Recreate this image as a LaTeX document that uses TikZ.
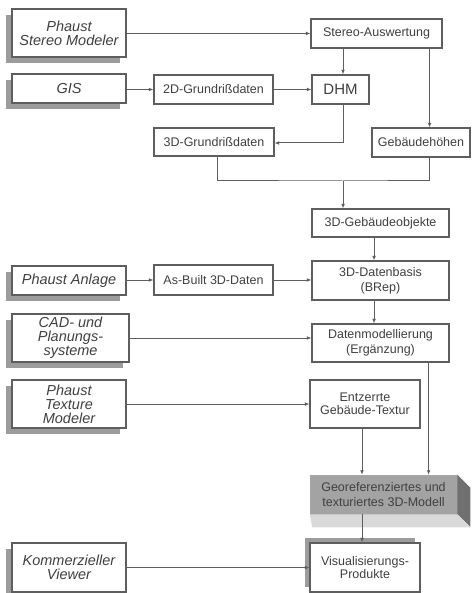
\documentclass[tikz,border=0pt]{standalone}
\usepackage{fontspec}
\setmainfont{Liberation Sans}
\usetikzlibrary{arrows.meta,shadows}
\definecolor{linegray}{HTML}{5E5E5E}
\definecolor{txtgray}{HTML}{404040}
\definecolor{shadegray}{HTML}{9C9C9C}
\definecolor{frontgray}{HTML}{A3A3A3}
\definecolor{sidegray}{HTML}{707070}
\definecolor{floorgray}{HTML}{D9D9D9}
\begin{document}
\begin{tikzpicture}[x=1pt,y=-1pt,
    line/.style={draw=linegray, line width=1pt},
    arr/.style={line, -{Latex[length=4.5pt,width=3.8pt]}},
    leftbox/.style={draw=linegray, line width=1.2pt, fill=white, text=txtgray,
        font=\fontsize{14.5}{14}\selectfont\itshape, align=center, inner sep=0pt,
        minimum width=114pt,
        drop shadow={shadow xshift=-6pt, shadow yshift=-6pt, fill=shadegray, opacity=1}},
    procbox/.style={draw=linegray, line width=1.2pt, fill=white, text=txtgray,
        font=\fontsize{12.5}{15}\selectfont, align=center, inner sep=0pt}]

    \fill[white] (0,0) rectangle (473,593);
    \useasboundingbox (0,0) rectangle (473,593);

    % Draw source systems
    \node[leftbox, minimum height=48pt] (psm) at (69,33) {Phaust\\Stereo Modeler};
    \node[leftbox, minimum height=29pt] (gis) at (69,88.5) {GIS};
    \node[leftbox, minimum height=29pt] (pan) at (69,280.5) {Phaust Anlage};
    \node[leftbox, minimum width=117pt, minimum height=48pt] (cad) at (70.5,338) {CAD- und\\Planungs-\\systeme};
    \node[leftbox, minimum height=48pt] (ptm) at (69,404) {Phaust\\Texture\\Modeler};
    \node[leftbox, minimum height=49pt] (kv) at (69,567.5) {Kommerzieller\\Viewer};

    % Draw data boxes
    \node[procbox, minimum width=131pt, minimum height=29pt] (stereo) at (376.5,33.5) {Stereo-Auswertung};
    \node[procbox, minimum width=119pt, minimum height=29pt] (g2d) at (213.5,89.5) {2D-Grundrißdaten};
    \node[procbox, minimum width=57pt, minimum height=29pt, font=\fontsize{15}{18}\selectfont] (dhm) at (340.5,89.5) {DHM};
    \node[procbox, minimum width=120pt, minimum height=28pt] (g3d) at (214,142) {3D-Grundrißdaten};
    \node[procbox, minimum width=98pt, minimum height=29pt] (geb) at (421,142.5) {Gebäudehöhen};
    \node[procbox, minimum width=137pt, minimum height=28pt] (obj) at (380.5,223) {3D-Gebäudeobjekte};
    \node[procbox, minimum width=119pt, minimum height=30pt] (asb) at (213.5,280) {As-Built 3D-Daten};
    \node[procbox, minimum width=137pt, minimum height=39pt] (dbase) at (380.5,280.5) {3D-Datenbasis\\(BRep)};
    \node[procbox, minimum width=137pt, minimum height=38pt] (dmod) at (380.5,343) {Datenmodellierung\\(Ergänzung)};
    \node[procbox, minimum width=110pt, minimum height=48pt, font=\fontsize{12.5}{12.5}\selectfont] (tex) at (365,404) {Entzerrte\\Gebäude-Textur};
    \node[procbox, minimum width=110pt, minimum height=49pt, font=\fontsize{12.5}{13}\selectfont,
        drop shadow={shadow xshift=-5pt, shadow yshift=5pt, fill=shadegray, opacity=1}] (vis) at (365,567.5) {Visualisierungs-\\Produkte};

    % Draw 3D model block
    \node[procbox, draw=black!35, line width=0.5pt, fill=frontgray, minimum width=147pt, minimum height=39pt, font=\fontsize{12.5}{15.5}\selectfont] (geo) at (383.5,494.5) {Georeferenziertes und\\texturiertes 3D-Modell};
    \fill[sidegray] (geo.north east) -- ++(13,13) -- ++(0,39) -- (geo.south east) -- cycle;
    \fill[floorgray] (geo.south west) -- (geo.south east) -- ++(13,13) -- ++(-158,0) -- cycle;

    % Helper columns
    \coordinate (jx) at (343,181);
    \coordinate (hx) at ([xshift=-13pt]stereo.south east);

    % Draw connectors
    \draw[arr] (psm.east |- stereo.west) -- (stereo.west);
    \draw[arr] (gis.east |- g2d.west) -- (g2d.west);
    \draw[arr] (g2d.east) -- (dhm.west);
    \draw[arr] (jx |- stereo.south) -- (jx |- dhm.north);
    \draw[arr] (hx) -- (hx |- geb.north);
    \draw[arr] (jx |- dhm.south) |- ([yshift=-1pt]g3d.east);
    \draw[line] ([xshift=3pt]g3d.south) |- (jx) -- (hx |- jx) -- (hx |- geb.south);
    \draw[arr] (jx) -- (jx |- obj.north);
    \draw[arr] ([xshift=-6.5pt]obj.south) -- ([xshift=-6.5pt]obj.south |- dbase.north);
    \draw[arr] (pan.east |- asb.west) -- (asb.west);
    \draw[arr] (asb.east) -- (dbase.west |- asb.east);
    \draw[arr] ([xshift=-6.5pt]dbase.south) -- ([xshift=-6.5pt]dbase.south |- dmod.north);
    \draw[arr] (cad.east) -- (dmod.west |- cad.east);
    \draw[arr] (ptm.east) -- (tex.west |- ptm.east);
    \draw[arr] ([xshift=-21pt]dmod.south east) -- ([xshift=-21pt]dmod.south east |- geo.north);
    \draw[arr] ([xshift=-3pt]tex.south) -- ([xshift=-3pt]tex.south |- geo.north);
    \draw[arr] ([xshift=-3pt]vis.north |- geo.south) -- ([xshift=-3pt]vis.north);
    \draw[arr] (kv.east) -- (vis.west |- kv.east);
\end{tikzpicture}
\end{document}
